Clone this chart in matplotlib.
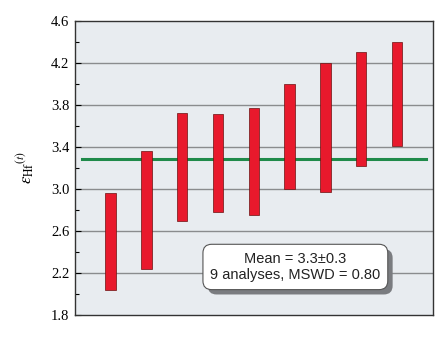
import matplotlib
matplotlib.use("Agg")
import matplotlib.pyplot as plt
import matplotlib.patheffects as pe
import numpy as np

analyses = [1, 2, 3, 4, 5, 6, 7, 8, 9]
upper = [2.96, 3.36, 3.72, 3.71, 3.77, 4.00, 4.20, 4.30, 4.40]
lower = [2.04, 2.24, 2.69, 2.78, 2.75, 3.00, 2.97, 3.22, 3.41]
mean_value = 3.28
yticks = [1.8, 2.2, 2.6, 3.0, 3.4, 3.8, 4.2, 4.6]
box_text = "Mean = 3.3±0.3\n9 analyses, MSWD = 0.80"

plt.rcParams["mathtext.fontset"] = "stix"

fig = plt.figure(figsize=(4.43, 3.40), dpi=100)
ax = fig.add_axes([0.169, 0.0735, 0.808, 0.866])
ax.set_facecolor("#e8ecf0")

ax.set_xlim(0, 10)
ax.set_ylim(1.8, 4.6)

for t in yticks[1:-1]:
    ax.axhline(t, color="#8a8c8e", lw=1.0, zorder=1)

heights = np.array(upper) - np.array(lower)
ax.bar(analyses, heights, bottom=lower, width=0.29, color="#e8192c",
       edgecolor="#6a1010", linewidth=0.5, zorder=3)

ax.plot([0.2, 9.8], [mean_value, mean_value], color="#1f8a4a", lw=2.2, zorder=2)

ax.set_xticks([])
ax.set_yticks(yticks)
ax.set_yticks(np.arange(2.0, 4.5, 0.4), minor=True)
ax.tick_params(axis="y", which="major", direction="in", length=4, width=0.8,
               labelsize=10.5, pad=4)
ax.tick_params(axis="y", which="minor", direction="in", length=3, width=0.8)
for lab in ax.get_yticklabels():
    lab.set_fontfamily("Liberation Serif")

for s in ax.spines.values():
    s.set_color("#333333")
    s.set_linewidth(1.0)

ax.set_ylabel(r"$\varepsilon_{\mathrm{Hf}}{}^{(t)}$", fontsize=12, labelpad=10)

ax.text(6.16, 2.257, box_text, ha="center", va="center", fontsize=10.5,
        family="Liberation Sans", color="#222222", linespacing=1.25, zorder=5,
        bbox=dict(boxstyle="round,pad=0.5,rounding_size=0.6", fc="white",
                  ec="#555555", lw=0.8,
                  path_effects=[pe.SimplePatchShadow(offset=(3.5, -3.5),
                                                     shadow_rgbFace="#7a7c80",
                                                     alpha=1.0),
                                pe.Normal()]))

fig.savefig("out.png", dpi=100)
